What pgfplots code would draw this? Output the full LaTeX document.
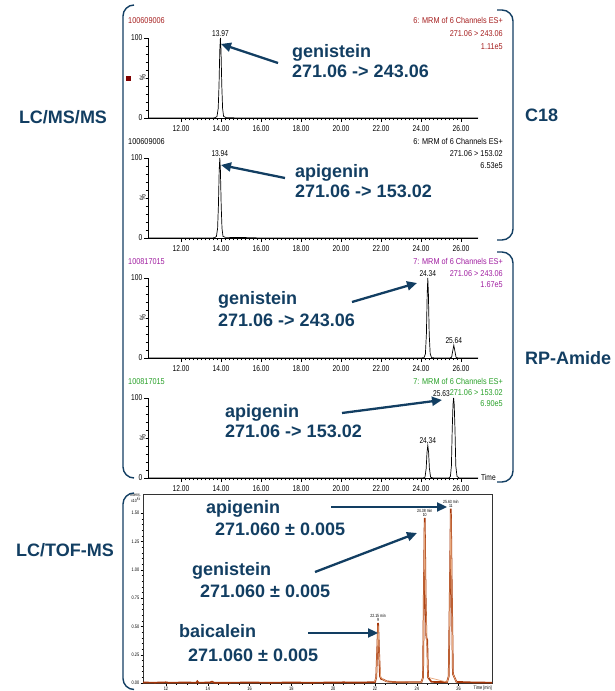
\documentclass[border=0pt]{standalone}
\usepackage{fontspec}
\setmainfont{Liberation Sans}
\newfontfamily\narrowfont[FakeStretch=0.78]{Liberation Sans}
\newfontfamily\hdrfont[FakeStretch=0.86]{Liberation Sans}
\usepackage{pgfplots}
\pgfplotsset{compat=1.18}
\usetikzlibrary{arrows.meta}
\definecolor{navy}{RGB}{18,62,98}
\definecolor{hdrred}{RGB}{165,30,30}
\definecolor{hdrpur}{RGB}{160,30,160}
\definecolor{hdrgrn}{RGB}{40,160,40}
\definecolor{tofdark}{RGB}{165,55,10}
\definecolor{toflight}{RGB}{232,170,128}
\newcommand{\annfont}{\bfseries\fontsize{18}{20}\selectfont}
\newcommand{\hdr}{\hdrfont\fontsize{8.5}{9}\selectfont}
\newcommand{\tickfont}{\narrowfont\fontsize{8.5}{9}\selectfont}
\pgfplotsset{msaxis/.style={
  scale only axis, width=330pt, height=80pt,
  xmin=10.35, xmax=26.85, ymin=0, ymax=100,
  axis lines=left, axis line style={-, line width=0.6pt},
  xtick={12,14,16,18,20,22,24,26},
  xticklabels={12.00,14.00,16.00,18.00,20.00,22.00,24.00,26.00},
  ytick={0,100}, yticklabels={0,100},
  minor x tick num=9, minor y tick num=9,
  tick align=outside, major tick length=4pt, minor tick length=2.5pt,
  tick style={line width=0.5pt, black},
  ticklabel style={font=\tickfont, inner sep=1.5pt},
  xticklabel style={yshift=-1.5pt},
  clip=false, anchor=south west,
}}
\tikzset{ann/.style={navy, line width=2.3pt, -{Triangle[length=10pt,width=9pt]}},
  brk/.style={navy, line width=1.4pt, rounded corners=11pt}}
\begin{document}
\begin{tikzpicture}[x=1pt,y=1pt]
\path[use as bounding box] (0,0) rectangle (614,691);
% ---------- Panel 1
\begin{axis}[msaxis, at={(148pt,573pt)}]
\addplot[black, line width=0.7pt] coordinates {(10.35,0)(13.6,0)(13.72,0.5)(13.8,2)(13.86,12)(13.9,40)(13.94,85)(13.97,100)(14.0,85)(14.04,40)(14.08,12)(14.13,2)(14.25,0.5)(14.6,0.2)(15.2,0)(26.85,0)};
\node[anchor=south, font=\tickfont, inner sep=1pt] at (axis cs:13.97,100) {13.97};
\node[rotate=90, font=\tickfont] at (axis description cs:-0.016,0.5) {\%};
\end{axis}
% ---------- Panel 2
\begin{axis}[msaxis, at={(148pt,453pt)}]
\addplot[black, line width=0.7pt] coordinates {(10.35,0)(13.57,0)(13.69,0.5)(13.77,2)(13.83,12)(13.87,40)(13.91,85)(13.94,100)(13.97,85)(14.01,40)(14.05,12)(14.1,2)(14.22,0.8)(14.6,0.7)(15.0,0.6)(15.5,0.4)(16,0)(26.85,0)};
\node[anchor=south, font=\tickfont, inner sep=1pt] at (axis cs:13.94,100) {13.94};
\node[rotate=90, font=\tickfont] at (axis description cs:-0.016,0.5) {\%};
\end{axis}
% ---------- Panel 3
\begin{axis}[msaxis, at={(148pt,333pt)}]
\addplot[black, line width=0.7pt] coordinates {(10.35,0)(24.0,0)(24.15,0.5)(24.22,5)(24.27,30)(24.31,80)(24.34,100)(24.37,80)(24.41,30)(24.46,5)(24.53,0.5)(24.7,0)(25.45,0)(25.53,1)(25.58,8)(25.64,16)(25.7,8)(25.75,1)(25.85,0)(26.85,0)};
\node[anchor=south, font=\tickfont, inner sep=1pt] at (axis cs:24.34,100) {24.34};
\node[anchor=south, font=\tickfont, inner sep=1pt] at (axis cs:25.64,16) {25.64};
\node[rotate=90, font=\tickfont] at (axis description cs:-0.016,0.5) {\%};
\end{axis}
% ---------- Panel 4
\begin{axis}[msaxis, at={(148pt,213pt)}]
\addplot[black, line width=0.7pt] coordinates {(10.35,0)(24.1,0)(24.2,1)(24.26,12)(24.3,32)(24.34,41)(24.38,32)(24.42,12)(24.48,1)(24.6,0)(25.4,0)(25.47,2)(25.52,15)(25.56,60)(25.6,92)(25.63,100)(25.66,92)(25.7,60)(25.74,15)(25.8,2)(25.9,0)(26.85,0)};
\node[anchor=south east, font=\tickfont, inner sep=1pt] at (axis cs:25.5,100) {25.63};
\node[anchor=south, font=\tickfont, inner sep=1pt] at (axis cs:24.34,41) {24.34};
\node[rotate=90, font=\tickfont] at (axis description cs:-0.016,0.5) {\%};
\end{axis}
% ---------- TOF panel
\begin{axis}[scale only axis, width=349pt, height=189pt, at={(143pt,8pt)}, anchor=south west,
  xmin=10.9, xmax=27.6, ymin=0, ymax=1.67,
  axis line style={line width=0.7pt, black!80},
  xtick={12,14,16,18,20,22,24,26}, xticklabels={12,14,16,18,20,22,24,26},
  ytick={0,0.25,0.5,0.75,1,1.25,1.5}, yticklabels={0.00,0.25,0.50,0.75,1.00,1.25,1.50},
  minor y tick num=4, minor x tick num=3,
  xtick pos=left, ytick pos=left, tick align=outside,
  major tick length=2.5pt, minor tick length=1.5pt,
  tick style={line width=0.4pt, black},
  ticklabel style={font=\narrowfont\fontsize{5}{5}\selectfont, inner sep=1pt},
  clip=false]
\addplot[tofdark, line width=1.7pt] coordinates {(10.9,0.004)(11.5,0.003)(12,0.006)(12.1,0.003)(13,0.004)(13.45,0.003)(13.5,0.015)(13.55,0.003)(14.1,0.004)(14.2,0.012)(14.3,0.003)(15,0.003)(16,0.004)(17,0.003)(18,0.004)(19,0.003)(20,0.004)(20.5,0.006)(21,0.004)(21.5,0.005)(22.0,0.008)(22.06,0.05)(22.11,0.3)(22.15,0.53)(22.19,0.3)(22.24,0.06)(22.3,0.035)(22.4,0.03)(22.55,0.015)(22.8,0.01)(23.2,0.006)(24.22,0.006)(24.3,0.05)(24.34,0.8)(24.38,1.46)(24.42,0.8)(24.46,0.4)(24.5,0.38)(24.54,0.05)(24.7,0.01)(25.45,0.008)(25.53,0.06)(25.59,0.9)(25.63,1.54)(25.67,0.9)(25.73,0.08)(25.9,0.01)(26.5,0.006)(27,0.004)(27.6,0.003)};
\addplot[toflight, line width=0.7pt] coordinates {(21.98,0.008)(22.06,0.05)(22.11,0.3)(22.15,0.51)(22.19,0.3)(22.27,0.05)(22.4,0.03)(22.6,0.01)(24.22,0.006)(24.3,0.05)(24.34,0.8)(24.38,1.42)(24.42,0.8)(24.49,0.3)(24.54,0.05)(25.45,0.008)(25.53,0.06)(25.59,0.9)(25.63,1.5)(25.67,0.9)(25.73,0.08)(25.9,0.01)};
\node[anchor=south, font=\narrowfont\fontsize{4.5}{4.5}\selectfont, align=center, inner sep=1pt] at (axis cs:22.15,0.53) {22.15 min\\9};
\node[anchor=south, font=\narrowfont\fontsize{4.5}{4.5}\selectfont, align=center, inner sep=1pt] at (axis cs:24.38,1.46) {24.38 min\\10};
\node[anchor=south, font=\narrowfont\fontsize{4.5}{4.5}\selectfont, align=center, inner sep=1pt] at (axis cs:25.63,1.54) {25.63 min\\11};
\end{axis}
\node[anchor=north east, font=\narrowfont\fontsize{4.5}{4.5}\selectfont, align=right, inner sep=0pt] at (141,198) {Intens.\\x10$^6$};
\node[anchor=base east, font=\narrowfont\fontsize{5}{5}\selectfont, inner sep=0pt] at (492,1.5) {Time [min]};
% ---------- headers
\node[anchor=base west, font=\hdr, text=hdrred, inner sep=0pt] at (128,667) {100609006};
\node[anchor=base east, font=\hdr, text=hdrred, inner sep=0pt] at (503,667) {6: MRM of 6 Channels ES+};
\node[anchor=base east, font=\hdr, text=hdrred, inner sep=0pt] at (503,654) {271.06 > 243.06};
\node[anchor=base east, font=\hdr, text=hdrred, inner sep=0pt] at (503,641) {1.11e5};
\fill[red!50!black] (125.5,609.5) rectangle (130.5,614.5);
\node[anchor=base west, font=\hdr, inner sep=0pt] at (128,546) {100609006};
\node[anchor=base east, font=\hdr, inner sep=0pt] at (503,546) {6: MRM of 6 Channels ES+};
\node[anchor=base east, font=\hdr, inner sep=0pt] at (503,534) {271.06 > 153.02};
\node[anchor=base east, font=\hdr, inner sep=0pt] at (503,522) {6.53e5};
\node[anchor=base west, font=\hdr, text=hdrpur, inner sep=0pt] at (128,426) {100817015};
\node[anchor=base east, font=\hdr, text=hdrpur, inner sep=0pt] at (503,426) {7: MRM of 6 Channels ES+};
\node[anchor=base east, font=\hdr, text=hdrpur, inner sep=0pt] at (503,414) {271.06 > 243.06};
\node[anchor=base east, font=\hdr, text=hdrpur, inner sep=0pt] at (503,403) {1.67e5};
\node[anchor=base west, font=\hdr, text=hdrgrn, inner sep=0pt] at (128,306) {100817015};
\node[anchor=base east, font=\hdr, text=hdrgrn, inner sep=0pt] at (503,306) {7: MRM of 6 Channels ES+};
\node[anchor=base east, font=\hdr, text=hdrgrn, inner sep=0pt] at (503,295) {271.06 > 153.02};
\node[anchor=base east, font=\hdr, text=hdrgrn, inner sep=0pt] at (503,284) {6.90e5};
\node[anchor=base west, font=\tickfont, inner sep=0pt] at (481,210) {Time};
% ---------- annotations
\node[anchor=base west, font=\annfont, text=navy, inner sep=0pt] at (292,633) {genistein};
\node[anchor=base west, font=\annfont, text=navy, inner sep=0pt] at (292,613) {271.06 -> 243.06};
\draw[ann] (278,628) -- (221,647);
\node[anchor=base west, font=\annfont, text=navy, inner sep=0pt] at (295,513) {apigenin};
\node[anchor=base west, font=\annfont, text=navy, inner sep=0pt] at (295,493) {271.06 -> 153.02};
\draw[ann] (285,513) -- (221,526);
\node[anchor=base west, font=\annfont, text=navy, inner sep=0pt] at (218,386) {genistein};
\node[anchor=base west, font=\annfont, text=navy, inner sep=0pt] at (218,364) {271.06 -> 243.06};
\draw[ann] (352,389) -- (417,408);
\node[anchor=base west, font=\annfont, text=navy, inner sep=0pt] at (225,273) {apigenin};
\node[anchor=base west, font=\annfont, text=navy, inner sep=0pt] at (225,253) {271.06 -> 153.02};
\draw[ann] (342,278) -- (442,291);
\node[anchor=base west, font=\annfont, text=navy, inner sep=0pt] at (206,177) {apigenin};
\node[anchor=base west, font=\annfont, text=navy, inner sep=0pt] at (215,155) {271.060 ± 0.005};
\draw[ann] (331,184) -- (447,184);
\node[anchor=base west, font=\annfont, text=navy, inner sep=0pt] at (192,115) {genistein};
\node[anchor=base west, font=\annfont, text=navy, inner sep=0pt] at (200,93) {271.060 ± 0.005};
\draw[ann] (315,119) -- (417,158);
\node[anchor=base west, font=\annfont, text=navy, inner sep=0pt] at (179,53) {baicalein};
\node[anchor=base west, font=\annfont, text=navy, inner sep=0pt] at (188,29) {271.060 ± 0.005};
\draw[ann] (308,58) -- (378,58);
% ---------- side labels and brackets
\node[font=\annfont, text=navy] at (63,574) {LC/MS/MS};
\node[font=\annfont, text=navy] at (65,141) {LC/TOF-MS};
\node[anchor=base west, font=\annfont, text=navy, inner sep=0pt] at (525,569) {C18};
\node[anchor=base west, font=\annfont, text=navy, inner sep=0pt] at (525,326) {RP-Amide};
\draw[brk] (134,686) -- (123,686) -- (123,213) -- (134,213);
\draw[brk] (134,198) -- (123,198) -- (123,1.5) -- (134,1.5);
\draw[brk] (497,681) -- (513,681) -- (513,451) -- (497,451);
\draw[brk] (497,439) -- (513,439) -- (513,209) -- (497,209);
\end{tikzpicture}
\end{document}
